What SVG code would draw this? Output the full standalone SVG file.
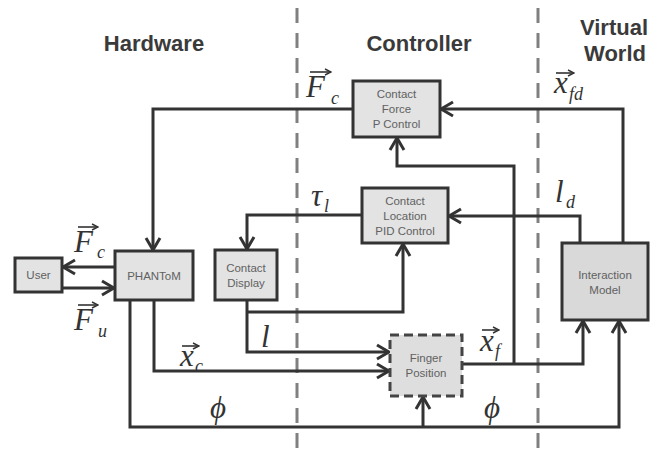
<svg xmlns="http://www.w3.org/2000/svg" width="662" height="452" viewBox="0 0 662 452">
<style>
.sep{stroke:#808080;stroke-width:3;stroke-dasharray:15 10;fill:none}
.box{fill:#e3e3e3;stroke:#333;stroke-width:3}
.dbox{fill:#dedede;stroke:#444;stroke-width:3;stroke-dasharray:9 5}
.bt{font-family:"Liberation Sans",Arial,sans-serif;font-size:11.5px;fill:#616161;text-anchor:middle}
.title{font-family:"Liberation Sans",Arial,sans-serif;font-size:22px;font-weight:bold;fill:#3a3a3a;text-anchor:middle}
.c{fill:none;stroke:#333;stroke-width:3;stroke-linejoin:miter}
.m{font-family:"Liberation Serif","Times New Roman",serif;font-style:italic;fill:#333}
.big{font-size:31px}
.sub{font-size:18px}
.vec{fill:none;stroke:#333;stroke-width:1.6}
</style>
<defs>
<marker id="arr" viewBox="0 0 16 18" refX="14" refY="9" markerWidth="16" markerHeight="18" markerUnits="userSpaceOnUse" orient="auto">
<path d="M2,2 L14,9 L2,16" fill="none" stroke="#333" stroke-width="3"/>
</marker>
<marker id="va" viewBox="0 0 8 8" refX="7" refY="4" markerWidth="8" markerHeight="8" markerUnits="userSpaceOnUse" orient="auto">
<path d="M1,1 L7,4 L1,7" fill="none" stroke="#333" stroke-width="1.4"/>
</marker>
</defs>
<rect width="662" height="452" fill="#ffffff"/>

<g id="separators">
<line class="sep" x1="297" y1="8" x2="297" y2="452"/>
<line class="sep" x1="538" y1="8" x2="538" y2="452"/>
</g>

<g id="titles">
<text class="title" x="154" y="51">Hardware</text>
<text class="title" x="419" y="51">Controller</text>
<text class="title" x="614" y="35">Virtual</text>
<text class="title" x="615" y="61">World</text>
</g>

<g id="connectors">
<polyline class="c" points="623,243 623,109 441,109" marker-end="url(#arr)"/>
<polyline class="c" points="353,109 153,109 153,250" marker-end="url(#arr)"/>
<polyline class="c" points="115,267 63,267" marker-end="url(#arr)"/>
<polyline class="c" points="62,288 114,288" marker-end="url(#arr)"/>
<polyline class="c" points="362,215 247,215 247,249" marker-end="url(#arr)"/>
<polyline class="c" points="580,243 580,216 449,216" marker-end="url(#arr)"/>
<polyline class="c" points="247,300 247,352 389,352" marker-end="url(#arr)"/>
<polyline class="c" points="247,312 403,312 403,244" marker-end="url(#arr)"/>
<polyline class="c" points="154,300 154,371 389,371" marker-end="url(#arr)"/>
<polyline class="c" points="130,300 130,427 619,427 619,321" marker-end="url(#arr)"/>
<polyline class="c" points="423,427 423,397" marker-end="url(#arr)"/>
<polyline class="c" points="462,364 583,364 583,321" marker-end="url(#arr)"/>
<polyline class="c" points="514,364 514,166 397,166 397,138" marker-end="url(#arr)"/>
</g>

<g id="contact-force">
<rect class="box" x="353" y="81" width="87" height="56"/>
<text class="bt" x="396.5" y="98">Contact</text>
<text class="bt" x="396.5" y="113">Force</text>
<text class="bt" x="396.5" y="128">P Control</text>
</g>
<g id="contact-location">
<rect class="box" x="362" y="188" width="86" height="55"/>
<text class="bt" x="405" y="205">Contact</text>
<text class="bt" x="405" y="220">Location</text>
<text class="bt" x="405" y="235">PID Control</text>
</g>
<g id="user">
<rect class="box" x="15" y="258" width="47" height="34"/>
<text class="bt" x="38.5" y="279">User</text>
</g>
<g id="phantom">
<rect class="box" x="115" y="251" width="78" height="49"/>
<text class="bt" x="154" y="280">PHANToM</text>
</g>
<g id="contact-display">
<rect class="box" x="215" y="250" width="62" height="50"/>
<text class="bt" x="246" y="272">Contact</text>
<text class="bt" x="246" y="287">Display</text>
</g>
<g id="interaction-model">
<rect class="box" x="562" y="243" width="86" height="77" style="fill:#d9d9d9"/>
<text class="bt" x="605" y="279">Interaction</text>
<text class="bt" x="605" y="294">Model</text>
</g>
<g id="finger-position">
<rect class="dbox" x="390" y="335" width="72" height="61"/>
<text class="bt" x="426" y="362">Finger</text>
<text class="bt" x="426" y="377">Position</text>
</g>

<g id="labels">
<text class="m big" x="306" y="97">F</text><text class="m sub" x="331" y="104">c</text>
<line class="vec" x1="310" y1="72" x2="331" y2="72" marker-end="url(#va)"/>
<text class="m big" x="554" y="93">x</text><text class="m sub" x="569" y="100">fd</text>
<line class="vec" x1="556" y1="73" x2="574" y2="73" marker-end="url(#va)"/>
<text class="m big" x="311" y="206">τ</text><text class="m sub" x="324" y="212">l</text>
<text class="m big" x="555" y="202">l</text><text class="m sub" x="566" y="208">d</text>
<text class="m big" x="74" y="252">F</text><text class="m sub" x="97" y="258">c</text>
<line class="vec" x1="78" y1="227" x2="98" y2="227" marker-end="url(#va)"/>
<text class="m big" x="74" y="330">F</text><text class="m sub" x="98" y="337">u</text>
<line class="vec" x1="78" y1="305" x2="98" y2="305" marker-end="url(#va)"/>
<text class="m big" x="180" y="366">x</text><text class="m sub" x="195" y="372">c</text>
<line class="vec" x1="182" y1="346" x2="199" y2="346" marker-end="url(#va)"/>
<text class="m big" x="261" y="347">l</text>
<text class="m big" x="480" y="351">x</text><text class="m sub" x="495" y="357">f</text>
<line class="vec" x1="482" y1="330" x2="499" y2="330" marker-end="url(#va)"/>
<text class="m big" x="210" y="418">ϕ</text>
<text class="m big" x="484" y="418">ϕ</text>
</g>
</svg>
